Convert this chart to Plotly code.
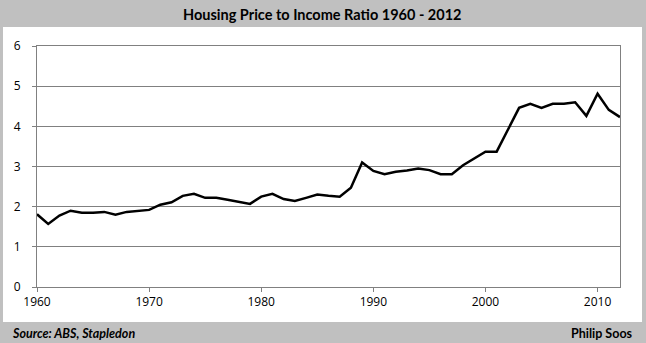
import plotly.graph_objects as go

years = list(range(1960, 2013))
ratio = [1.81, 1.57, 1.78, 1.90, 1.85, 1.85, 1.87, 1.80, 1.87, 1.89,
         1.92, 2.05, 2.11, 2.27, 2.32, 2.22, 2.22, 2.17, 2.12, 2.07,
         2.25, 2.32, 2.19, 2.14, 2.22, 2.30, 2.27, 2.25, 2.47, 3.10,
         2.89, 2.81, 2.87, 2.90, 2.95, 2.91, 2.81, 2.81, 3.03, 3.20,
         3.37, 3.37, 3.93, 4.46, 4.56, 4.46, 4.56, 4.56, 4.60, 4.26,
         4.81, 4.41, 4.23]
x_ticks = [1960, 1970, 1980, 1990, 2000, 2010]
y_ticks = [0, 1, 2, 3, 4, 5, 6]

title_text = "Housing Price to Income Ratio 1960 - 2012"
source_text = "Source: ABS, Stapledon"
author_text = "Philip Soos"

W, H = 646, 343
L, R, T, B = 37, 26, 46, 56
PW, PH = W - L - R, H - T - B

def px(X):
    return (X - L) / PW

def py(Y):
    return (H - B - Y) / PH

grid = "#808080"
fig = go.Figure()
fig.add_trace(go.Scatter(x=years, y=ratio, mode="lines",
                         line=dict(color="black", width=2.5),
                         showlegend=False, hoverinfo="x+y"))

fig.update_layout(
    width=W, height=H,
    margin=dict(l=L, r=R, t=T, b=B, pad=0),
    paper_bgcolor="#c0c0c0",
    plot_bgcolor="white",
    font=dict(family="Open Sans", color="black"),
    shapes=[dict(type="rect", xref="paper", yref="paper",
                 x0=px(3), x1=px(642), y0=py(322), y1=py(27),
                 fillcolor="white", line=dict(width=0), layer="below")],
    annotations=[
        dict(text="<b>" + title_text + "</b>", xref="paper", yref="paper",
             x=px(322), y=py(14), xanchor="center", yanchor="middle",
             showarrow=False, font=dict(family="Lato", size=14.5, color="black")),
        dict(text="<b><i>" + source_text + "</i></b>", xref="paper", yref="paper",
             x=px(10), y=py(333), xanchor="left", yanchor="middle",
             showarrow=False, font=dict(family="Lato", size=12.5, color="black")),
        dict(text="<b>" + author_text + "</b>", xref="paper", yref="paper",
             x=px(635), y=py(333), xanchor="right", yanchor="middle",
             showarrow=False, font=dict(family="Lato", size=12.5, color="black")),
    ],
)
fig.update_xaxes(range=[1960, 2012], tickvals=x_ticks, showgrid=False,
                 showline=True, linecolor=grid, linewidth=1, mirror=True,
                 ticks="outside", ticklen=4, tickcolor=grid,
                 tickfont=dict(size=12), zeroline=False)
fig.update_yaxes(range=[0, 6], tickvals=y_ticks, showgrid=True, gridcolor=grid,
                 gridwidth=1, showline=True, linecolor=grid, linewidth=1,
                 mirror=True, ticks="outside", ticklen=4, tickcolor=grid,
                 tickfont=dict(size=12), ticklabelstandoff=9, zeroline=False)

fig.write_html("out.html")
